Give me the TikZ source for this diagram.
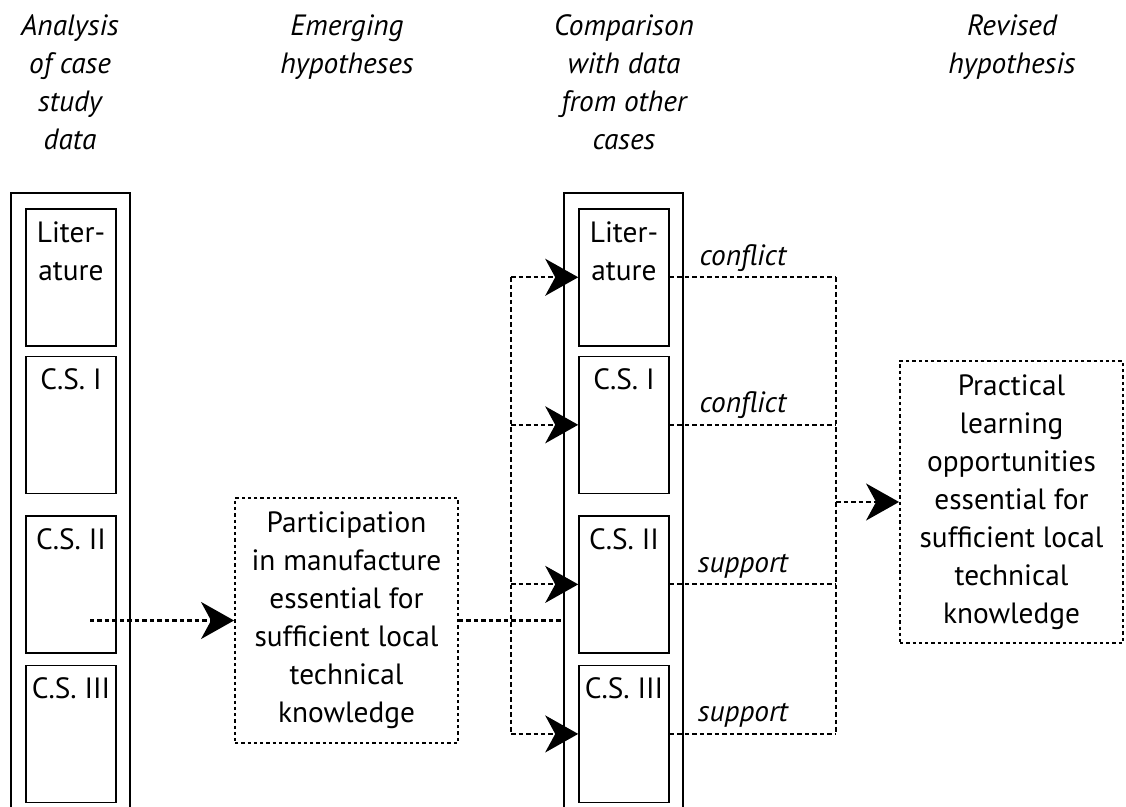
\documentclass[tikz,border=0pt]{standalone}
\usepackage{fontspec}
\setmainfont{PT Sans}
\usetikzlibrary{arrows.meta,positioning}
\newcommand{\figfont}{\fontsize{16.7pt}{21.6pt}\selectfont}
\tikzset{
  column/.style   = {draw, line width=1.1pt},
  case/.style     = {draw, line width=0.9pt, inner sep=0pt, minimum width=1.8cm, minimum height=2.74cm, anchor=north},
  casetext/.style = {inner sep=0pt, align=center, anchor=north},
  head/.style     = {font=\figfont\itshape, inner sep=0pt, align=center, anchor=north},
  hypo/.style     = {draw, line width=1.1pt, dash pattern=on 0.065cm off 0.06cm, align=center, inner sep=0pt, minimum width=4.46cm},
  flow/.style     = {line width=1.2pt, dash pattern=on 0.09cm off 0.06cm},
  lbl/.style      = {font=\figfont\itshape, inner sep=0pt, anchor=base, yshift=0.24cm}
}

\begin{document}
\begin{tikzpicture}[x=0.02cm, y=-0.02cm, font=\figfont,
  >={Stealth[length=0.66cm, width=0.74cm, inset=0.2cm]}]
\useasboundingbox (0,0) rectangle (1126,807);

% column headings
\node[head] (h1) at (70,14) {Analysis\\of case\\study\\data};
\node[head] (h2) at (347,14) {Emerging\\hypotheses};
\node[head] (h3) at (624,14) {Comparison\\with data\\from other\\cases};
\node[head] (h4) at (1012,14) {Revised\\hypothesis};

% left column, the case study data
\draw[column] (11,807) |- (130,193) -- (130,807);
\node[case] (a1) at (71,208) {};
\node[case, below=0.18cm of a1] (a2) {};
\node[case, below=0.42cm of a2] (a3) {};
\node[case, below=0.22cm of a3] (a4) {};
\node[casetext, below=0.26cm of a1.north] (a1t) {Liter-\\ature};
\node[casetext, below=0.26cm of a2.north] (a2t) {C.S. I};
\node[casetext, below=0.26cm of a3.north] (a3t) {C.S. II};
\node[casetext, below=0.26cm of a4.north] (a4t) {C.S. III};

% middle column, data from the other cases
\draw[column] (564,807) |- (683,193) -- (683,807);
\node[case] (b1) at (624,208) {};
\node[case, below=0.18cm of b1] (b2) {};
\node[case, below=0.42cm of b2] (b3) {};
\node[case, below=0.22cm of b3] (b4) {};
\node[casetext, below=0.26cm of b1.north] (b1t) {Liter-\\ature};
\node[casetext, below=0.26cm of b2.north] (b2t) {C.S. I};
\node[casetext, below=0.26cm of b3.north] (b3t) {C.S. II};
\node[casetext, below=0.26cm of b4.north] (b4t) {C.S. III};

% hypotheses
\node[hypo, minimum height=4.9cm] (emerg) at (346.5,620.5)
  {Participation\\in manufacture\\essential for\\sufficient local\\technical\\knowledge};
\node[hypo, minimum height=5.64cm] (revis) at (1011.5,502)
  {Practical\\learning\\opportunities\\essential for\\sufficient local\\technical\\knowledge};

% connectors
\coordinate (src) at (90,620);
\coordinate (split) at (511,0);
\coordinate (cin) at (564,0);
\coordinate (merge) at (836,0);
\draw[flow,->] (emerg.west -| src) -- (emerg.west);
\draw[flow] (emerg.east) -- (emerg.east -| cin);
\draw[flow] (b1.west -| split) -- (b4.west -| split);
\foreach \b in {b1,b2,b3,b4}
  \draw[flow,->] (\b.west -| split) -- (\b.west);
\draw[flow] (b1.east -| merge) -- (b4.east -| merge);
\draw[flow] (b1.east) -- node[lbl, pos=0.44] {conflict} (b1.east -| merge);
\draw[flow] (b2.east) -- node[lbl, pos=0.44] {conflict} (b2.east -| merge);
\draw[flow] (b3.east) -- node[lbl, pos=0.44] {support} (b3.east -| merge);
\draw[flow] (b4.east) -- node[lbl, pos=0.44] {support} (b4.east -| merge);
\draw[flow,->] (revis.west -| merge) -- (revis.west);
\end{tikzpicture}
\end{document}
